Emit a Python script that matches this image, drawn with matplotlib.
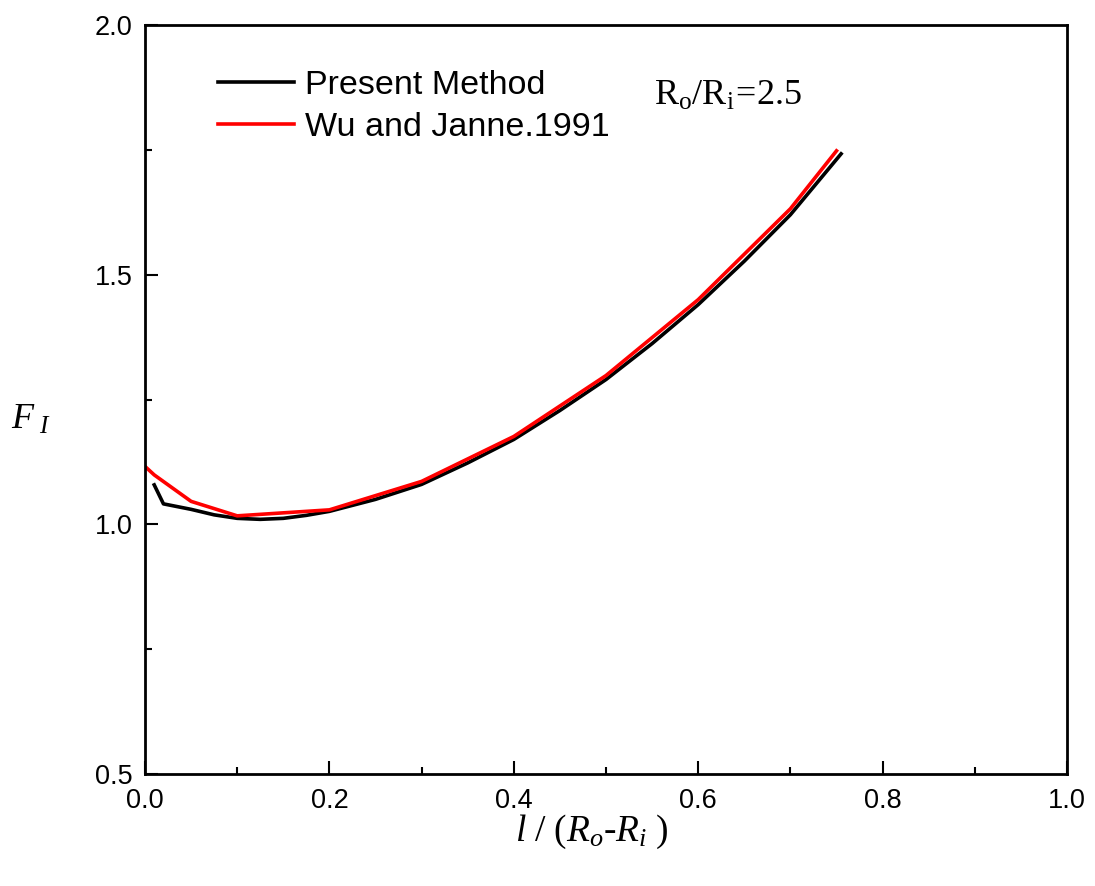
import matplotlib
matplotlib.use("Agg")
import matplotlib.pyplot as plt
from matplotlib.ticker import MultipleLocator

plt.rcParams['font.family'] = ['Liberation Sans', 'DejaVu Sans']
plt.rcParams['mathtext.fontset'] = 'custom'
plt.rcParams['mathtext.rm'] = 'Liberation Serif'
plt.rcParams['mathtext.it'] = 'Liberation Serif:italic'

# Data
present_x = [0.01, 0.02, 0.05, 0.075, 0.1, 0.125, 0.15, 0.175, 0.2, 0.25, 0.3, 0.35,
             0.4, 0.45, 0.5, 0.55, 0.6, 0.65, 0.7, 0.755]
present_y = [1.079, 1.041, 1.030, 1.019, 1.012, 1.010, 1.012, 1.018, 1.026, 1.050, 1.080,
             1.123, 1.170, 1.228, 1.290, 1.362, 1.440, 1.527, 1.620, 1.742]
wu_x = [0.0, 0.01, 0.05, 0.1, 0.2, 0.3, 0.4, 0.5, 0.6, 0.7, 0.75]
wu_y = [1.116, 1.099, 1.046, 1.017, 1.029, 1.086, 1.176, 1.298, 1.450, 1.632, 1.748]

fig = plt.figure(figsize=(10.95, 8.86), dpi=100)
ax = fig.add_axes([145/1095, 1 - 774/886, (1067-145)/1095, (774-25)/886])

ax.plot(present_x, present_y, color='black', lw=2.6, label='Present Method')
ax.plot(wu_x, wu_y, color='#ff0000', lw=2.6, label='Wu and Janne.1991')

ax.set_xlim(0, 1.0)
ax.set_ylim(0.5, 2.0)
ax.xaxis.set_major_locator(MultipleLocator(0.2))
ax.xaxis.set_minor_locator(MultipleLocator(0.1))
ax.yaxis.set_major_locator(MultipleLocator(0.5))
ax.yaxis.set_minor_locator(MultipleLocator(0.25))
ax.xaxis.set_major_formatter(matplotlib.ticker.FormatStrFormatter('%.1f'))
ax.yaxis.set_major_formatter(matplotlib.ticker.FormatStrFormatter('%.1f'))
ax.tick_params(which='major', direction='in', length=9.5, width=1.5, labelsize=19.5, pad=9)
ax.tick_params(which='minor', direction='in', length=5, width=1.5)
ax.tick_params(axis='x', which='major', pad=10)
for s in ax.spines.values():
    s.set_linewidth(2.0)

leg = ax.legend(loc='upper left', bbox_to_anchor=(0.079, 0.94), frameon=False,
                fontsize=24.5, handlelength=2.25, handletextpad=0.3, labelspacing=0.32,
                borderpad=0, borderaxespad=0)

ax.text(0.552, 0.893, r'$\mathrm{R_o/R_i\!=\!2.5}$', transform=ax.transAxes,
        fontsize=26, ha='left', va='baseline')

fig.text(11/1095, 1 - 419/886, r'$F_{\ I}$', fontsize=26, ha='left', va='center')
fig.text(592/1095, 1 - 832/886, r'$l\ /\ (R_o$-$R_i\ )$', fontsize=27,
         ha='center', va='center', family=['Liberation Serif', 'DejaVu Serif'])

fig.savefig('out.png', dpi=100)
